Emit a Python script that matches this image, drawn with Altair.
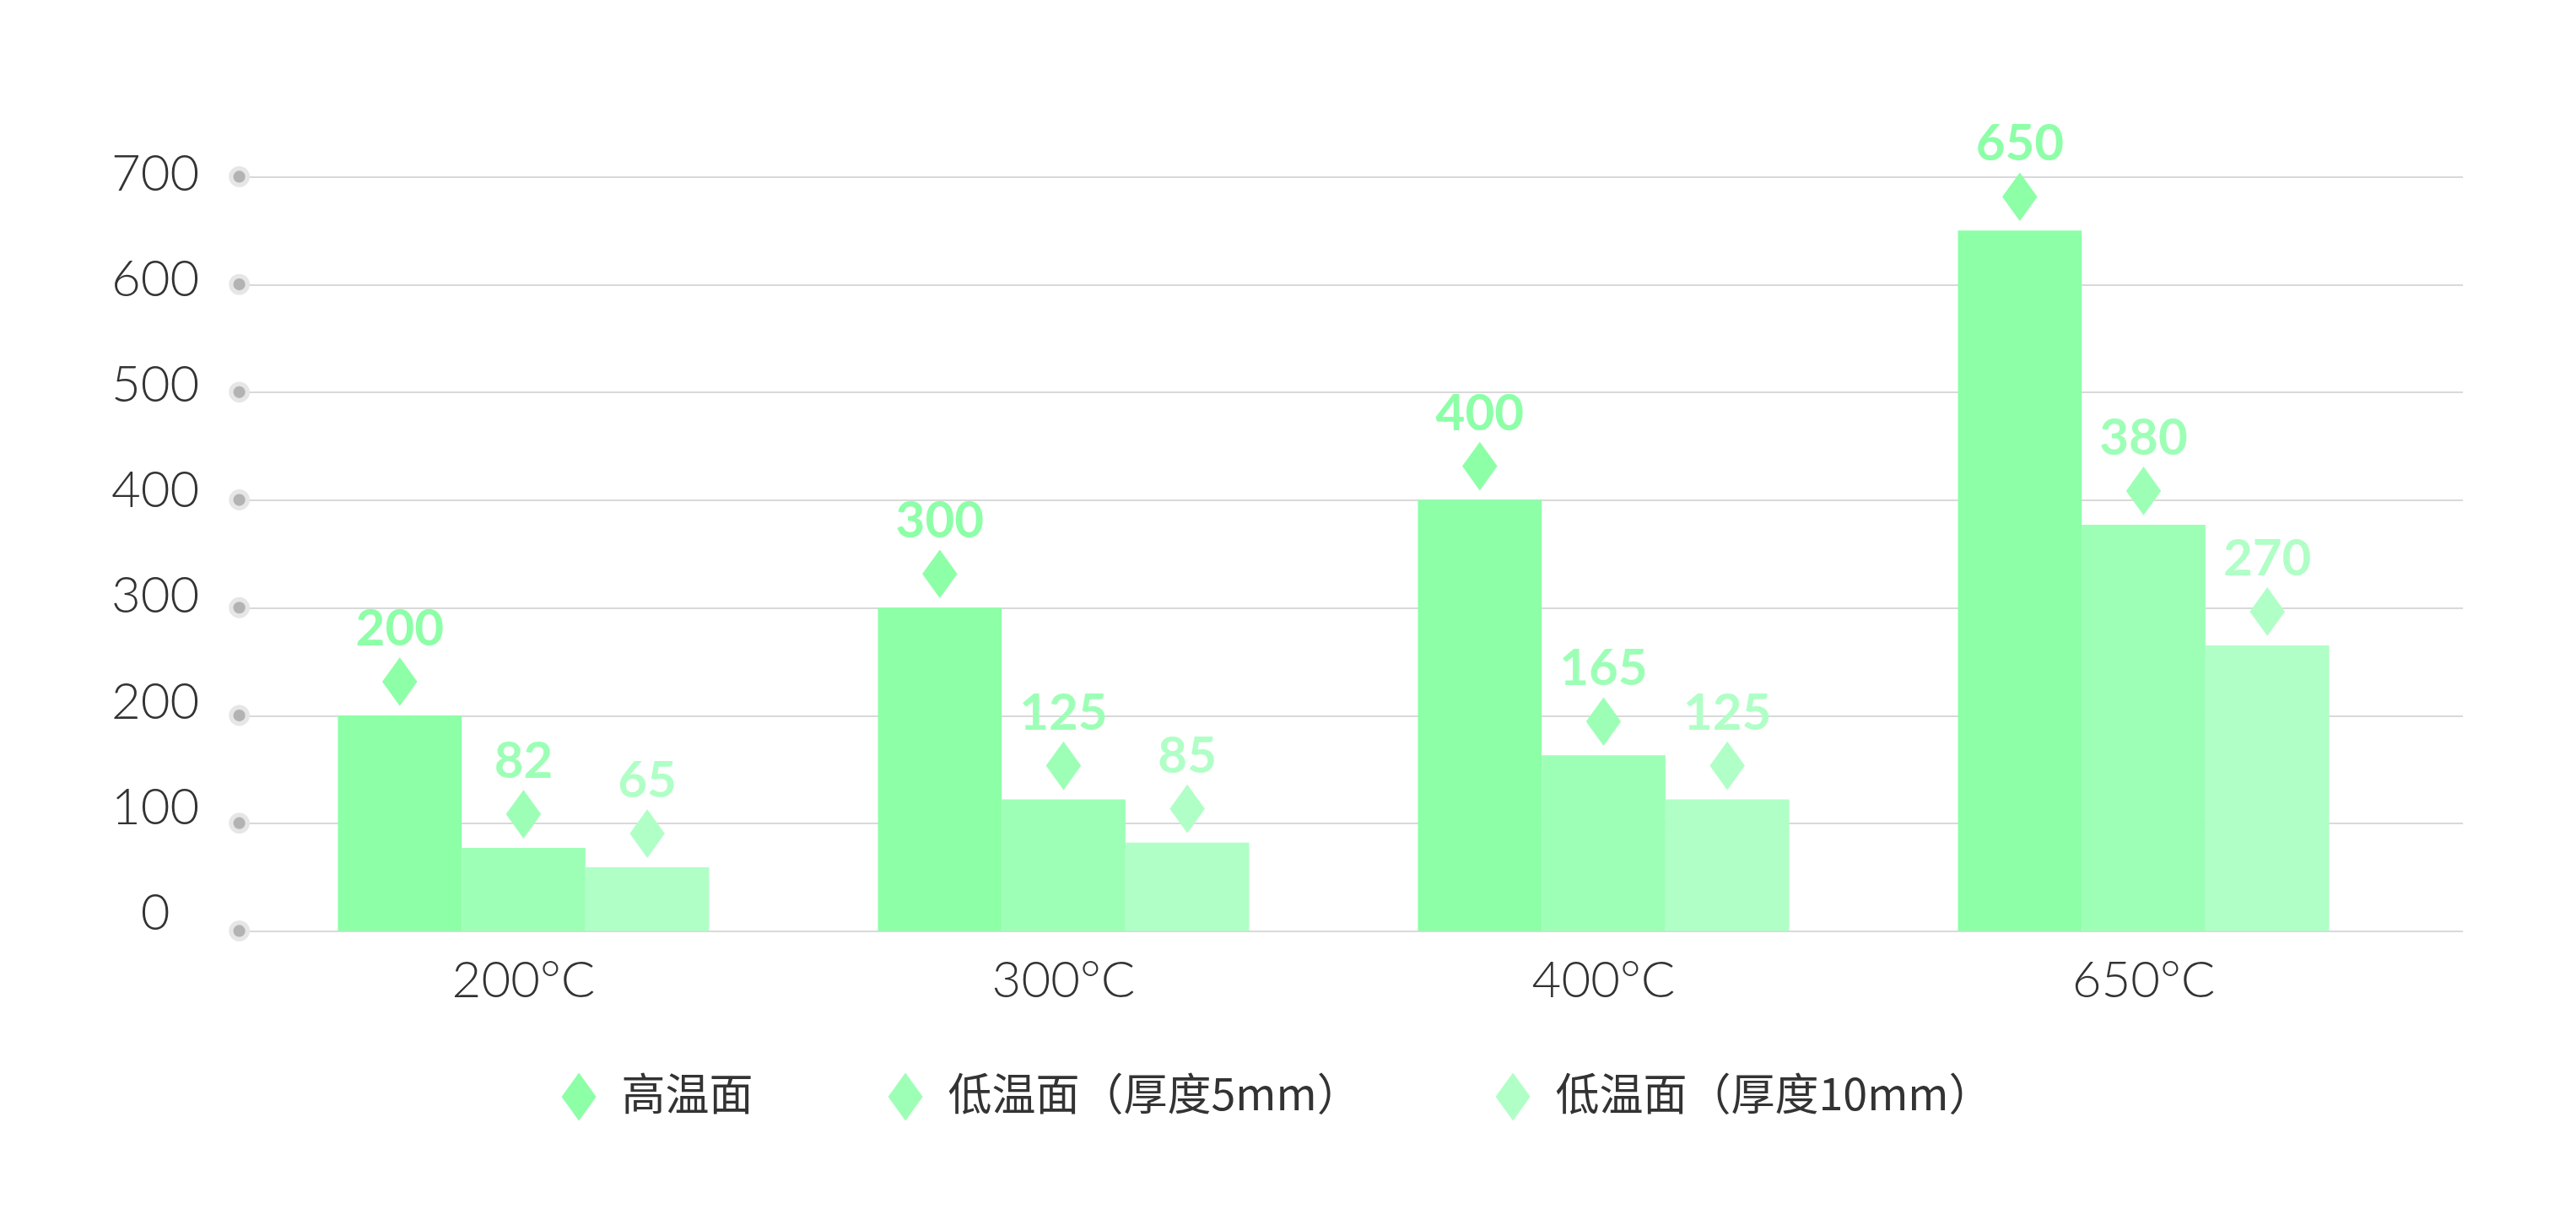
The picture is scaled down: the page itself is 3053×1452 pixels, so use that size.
import altair as alt
import pandas as pd

categories = ["200°C", "300°C", "400°C", "650°C"]
series = ["高温面", "低温面（厚度5mm）", "低温面（厚度10mm）"]
high_values = [200, 300, 400, 650]
low5_values = [77, 122, 163, 377]
low10_values = [59, 82, 122, 265]
high_labels = ["200", "300", "400", "650"]
low5_labels = ["82", "125", "165", "380"]
low10_labels = ["65", "85", "125", "270"]
y_ticks = [0, 100, 200, 300, 400, 500, 600, 700]
colors = ["#8cffa7", "#9dffb6", "#b0ffc6"]

rows = []
for vals, labs, s in zip([high_values, low5_values, low10_values],
                         [high_labels, low5_labels, low10_labels], series):
    for c, v, l in zip(categories, vals, labs):
        rows.append({"cat": c, "series": s, "value": v, "label": l})
df = pd.DataFrame(rows)
ticks_df = pd.DataFrame({"value": y_ticks})

FONT = "Lato"
DIAMOND_UP = "M0,-2.386L0.72,-1.386L0,-0.386L-0.72,-1.386Z"
DIAMOND = "M0,-1L0.72,0L0,1L-0.72,0Z"

x_enc = alt.X(
    "cat:N", sort=categories, title=None,
    scale=alt.Scale(paddingInner=0.3125, paddingOuter=0.2148, align=0.425),
    axis=alt.Axis(domain=False, ticks=False, grid=False, labelPadding=31,
                  labelFontSize=60, labelFont=FONT, labelFontWeight=300,
                  labelColor="#333333", labelAngle=0),
)
x_plain = alt.X("cat:N", sort=categories, title=None)
xoff = alt.XOffset("series:N", sort=series,
                   scale=alt.Scale(paddingInner=0, paddingOuter=0))
y_enc = alt.Y(
    "value:Q", title=None,
    scale=alt.Scale(domain=[0, 700], nice=False, zero=True),
    axis=alt.Axis(values=y_ticks, domain=False, ticks=False, grid=True,
                  gridColor="#d9d9d9", gridWidth=2, labelPadding=100,
                  labelAlign="center", labelBaseline="middle",
                  labelFontSize=60, labelFont=FONT, labelFontWeight=300,
                  labelColor="#333333",
                  labelOffset={"condition": {"test": "datum.value > 100000", "value": 0},
                               "expr": "-20 + 18 * datum.value / 700"}),
)
y_plain = alt.Y("value:Q", title=None)
color_enc = alt.Color(
    "series:N", sort=series,
    scale=alt.Scale(domain=series, range=colors),
    legend=alt.Legend(title=None, orient="none", legendX=374, legendY=1062,
                      direction="horizontal", columns=3, symbolType=DIAMOND,
                      symbolSize=3249, symbolStrokeWidth=0, symbolOpacity=1,
                      labelFont="Noto Sans CJK SC", labelFontSize=52,
                      labelColor="#333333", labelLimit=1000, labelOffset=22,
                      columnPadding=151, padding=0),
)

bars = alt.Chart(df).mark_bar().encode(x=x_enc, xOffset=xoff, y=y_enc, color=color_enc)

dots_outer = alt.Chart(ticks_df).mark_point(
    filled=True, shape="circle", size=616, color="#e6e6e6", opacity=1
).encode(x=alt.value(0), y=y_plain)
dots_inner = alt.Chart(ticks_df).mark_point(
    filled=True, shape="circle", size=201, color="#b3b3b3", opacity=1
).encode(x=alt.value(0), y=y_plain)

diamonds = alt.Chart(df).mark_point(
    filled=True, shape=DIAMOND_UP, size=3329, opacity=1, strokeWidth=0
).encode(x=x_plain, xOffset=xoff, y=y_plain, color=color_enc)

labels = alt.Chart(df).mark_text(
    font=FONT, fontSize=60, fontWeight="bold", baseline="alphabetic",
    align="center", dy=-83
).encode(x=x_plain, xOffset=xoff, y=y_plain, text="label:N", color=color_enc)

chart = alt.layer(bars, dots_outer, dots_inner, diamonds, labels).properties(
    width=2635, height=894,
    padding={"left": 275.6, "top": 201.4, "right": 100, "bottom": 300},
    autosize=alt.AutoSizeParams(type="none"),
).configure_view(stroke=None)

chart.save("out.html", embed_options={"renderer": "svg", "actions": False})
